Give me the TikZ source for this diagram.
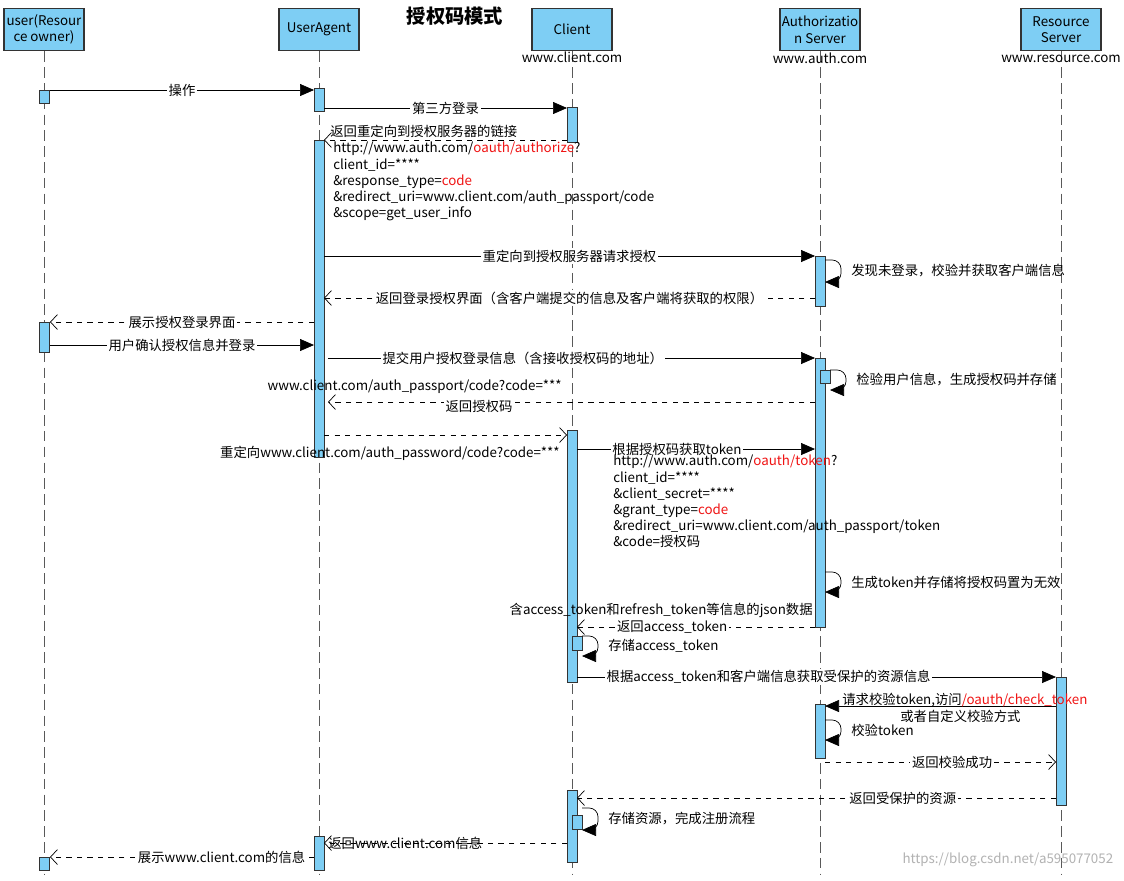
\documentclass[tikz,border=0pt]{standalone}
\usepackage{fontspec}
\setmainfont{Noto Sans CJK SC}
\usetikzlibrary{arrows.meta}
\definecolor{barblue}{RGB}{126,206,244}
\definecolor{redtxt}{RGB}{240,20,20}
\tikzset{
	head/.style={draw=black!80,thick,fill=barblue,minimum width=1.6cm,minimum height=0.84cm,align=center,inner sep=1pt,anchor=north},
	life/.style={dashed,gray!70!black,dash pattern=on 6pt off 3pt},
	bar/.style={draw=black!80,fill=barblue},
	call/.style={-{Triangle[length=0.28cm,width=0.24cm]}},
	back/.style={dashed,-{Straight Barb[length=0.14cm,width=0.3cm]}},
	self/.style={rounded corners=5pt,-{Triangle[length=0.28cm,width=0.24cm]}},
	lbl/.style={fill=white,inner sep=1pt},
	txt/.style={anchor=west,inner sep=0pt},
}
\def\actbar#1#2#3{\draw[bar] ({#1-5},#2) rectangle ({#1+5},#3);}
\def\rt#1{\textcolor{redtxt}{#1}}
\begin{document}
\fontsize{7.6}{9.2}\selectfont
\begin{tikzpicture}[x=0.02cm,y=-0.02cm]
\useasboundingbox[fill=white] (0,0) rectangle (1124,880);
% lifelines
\foreach \n/\x/\t in {usr/44/{user(Resour\\ce owner)},ua/319/UserAgent,cl/572/Client,as/820/{Authorizatio\\n Server},rs/1061/{Resource\\Server}}{
	\node[head] (\n) at (\x,8) {\t};
	\coordinate (end-\n) at (\x,875);
	\draw[life] (\n) -- (end-\n);
}
\node[font=\bfseries\fontsize{11}{13}\selectfont] (title) at (455,16) {授权码模式};
\node (clurl) at (572,57) {www.client.com};
\node (asurl) at (820,58) {www.auth.com};
\node (rsurl) at (1061,59) {www.resource.com};
% activations
\actbar{44}{90}{103} \actbar{44}{322}{352} \actbar{44}{857}{870}
\actbar{319}{88}{111} \actbar{319}{140}{457} \actbar{319}{836}{870}
\actbar{572}{107}{142} \actbar{572}{430}{682} \actbar{572}{790}{862}
\actbar{577}{636}{650} \actbar{577}{815}{829}
\actbar{820}{256}{306} \actbar{820}{358}{627} \actbar{820}{704}{758}
\actbar{825}{370}{383}
\actbar{1061}{677}{805}
% messages
\foreach \m/\ya/\xa/\xb in {a/90/50/314,b/108/324/567,c/140/567/324,d/256/324/815,e/298/815/324,f/322/314/50,g/345/50/314,h/358/328/815,i/402/815/328,j/435/324/567,k/449/577/815,l/627/815/577,m/677/577/1056,n/706/1056/825,o/762/825/1056,p/798/1056/577,q/843/567/324,r/857/314/50}{
	\coordinate (s-\m) at (\xa,\ya);
	\coordinate (t-\m) at (\xb,\ya);
}
\draw[call] (s-a) -- node[lbl] {操作} (t-a);
\draw[call] (s-b) -- node[lbl] {第三方登录} (t-b);
\draw[back] (s-c) -- (t-c);
\node[txt] (cl1) at (330,131) {返回重定向到授权服务器的链接};
\node[txt,align=left,anchor=north west] (cl2) at (333,142) {http://www.auth.com/\rt{oauth/authorize}?\\client\_id=****\\\&response\_type=\rt{code}\\\&redirect\_uri=www.client.com/auth\_passport/code\\\&scope=get\_user\_info};
\draw[call] (s-d) -- node[lbl] {重定向到授权服务器请求授权} (t-d);
\draw[back] (s-e) -- node[lbl] {返回登录授权界面（含客户端提交的信息及客户端将获取的权限）} (t-e);
\draw[back] (s-f) -- node[lbl] {展示授权登录界面} (t-f);
\draw[call] (s-g) -- node[lbl] {用户确认授权信息并登录} (t-g);
\draw[call] (s-h) -- node[lbl,pos=0.4] {提交用户授权登录信息（含接收授权码的地址）} (t-h);
\draw[back] (s-i) -- node[lbl,pos=0.69,below=-2pt] {返回授权码} (t-i);
\node[anchor=east,inner sep=0pt] (il) at (562,387) {www.client.com/auth\_passport/code?code=***};
\draw[back] (s-j) -- (t-j);
\node[anchor=east,inner sep=0pt] (jl) at (560,453) {重定向www.client.com/auth\_password/code?code=***};
\draw[call] (s-k) -- node[lbl,pos=0.42] {根据授权码获取token} (t-k);
\node[txt,align=left,anchor=north west] (kl) at (613,455) {http://www.auth.com/\rt{oauth/token}?\\client\_id=****\\\&client\_secret=****\\\&grant\_type=\rt{code}\\\&redirect\_uri=www.client.com/auth\_passport/token\\\&code=授权码};
\node[anchor=east,inner sep=0pt] (ll) at (813,610) {含access\_token和refresh\_token等信息的json数据};
\draw[back] (s-l) -- node[lbl,pos=0.6] {返回access\_token} (t-l);
\draw[call] (s-m) -- node[lbl,pos=0.4] {根据access\_token和客户端信息获取受保护的资源信息} (t-m);
\draw[call] (s-n) -- (t-n);
\node[txt] (nl1) at (842,700) {请求校验token,访问\rt{/oauth/check\_token}};
\node[txt] (nl2) at (900,716) {或者自定义校验方式};
\draw[back] (s-o) -- node[lbl,pos=0.55] {返回校验成功} (t-o);
\draw[back] (s-p) -- node[lbl,pos=0.32] {返回受保护的资源} (t-p);
\draw[back] (s-q) -- (t-q);
\node[txt] (ql) at (328,843) {返回www.client.com信息};
\draw[back] (s-r) -- node[lbl,pos=0.35] {展示www.client.com的信息} (t-r);
% self messages
\foreach \s/\x/\ya/\yb/\t in {s1/825/260/282/发现未登录，校验并获取客户端信息,s2/830/370/390/检验用户信息，生成授权码并存储,s3/825/572/592/生成token并存储将授权码置为无效,s4/582/636/656/存储access\_token,s5/825/720/740/校验token,s6/582/808/830/存储资源，完成注册流程}{
	\coordinate (a-\s) at (\x,\ya);
	\coordinate (b-\s) at (\x,\yb);
	\draw[self] (a-\s) -- ++(16,0) -- ++(0,{\yb-\ya}) -- (b-\s);
	\node[txt] (l-\s) at ({\x+26},{(\ya+\yb)/2}) {\t};
}
\node[gray!60,anchor=south east] (mark) at (1118,872) {https://blog.csdn.net/a595077052};
\end{tikzpicture}
\end{document}
